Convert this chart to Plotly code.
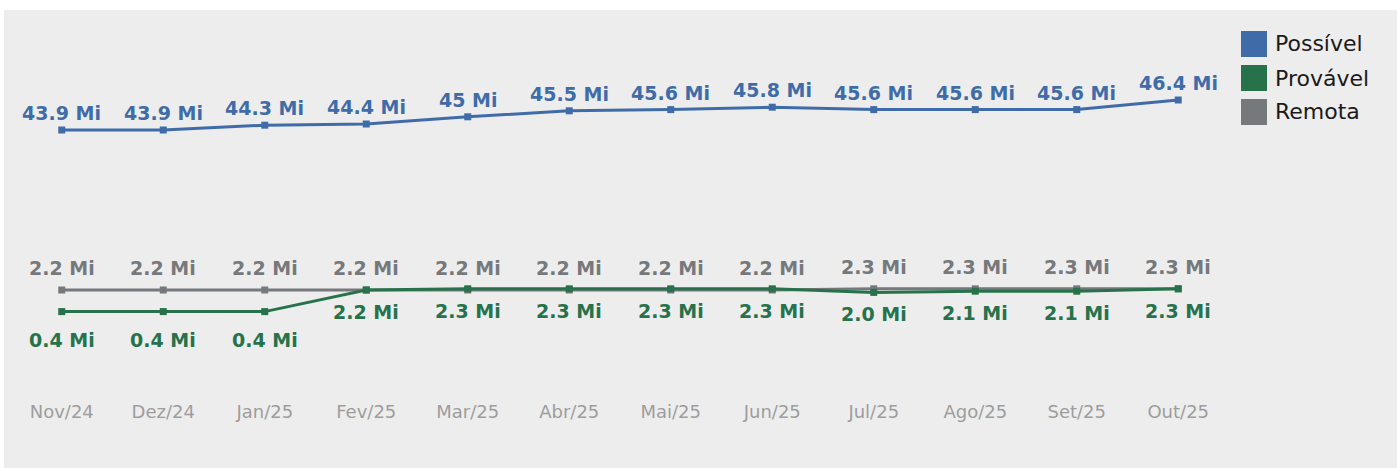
import plotly.graph_objects as go

months = ["Nov/24", "Dez/24", "Jan/25", "Fev/25", "Mar/25", "Abr/25",
          "Mai/25", "Jun/25", "Jul/25", "Ago/25", "Set/25", "Out/25"]
possivel = [43.9, 43.9, 44.3, 44.4, 45.0, 45.5, 45.6, 45.8, 45.6, 45.6, 45.6, 46.4]
provavel = [0.4, 0.4, 0.4, 2.2, 2.3, 2.3, 2.3, 2.3, 2.0, 2.1, 2.1, 2.3]
remota = [2.2, 2.2, 2.2, 2.2, 2.2, 2.2, 2.2, 2.2, 2.3, 2.3, 2.3, 2.3]
possivel_lbl = ["43.9 Mi", "43.9 Mi", "44.3 Mi", "44.4 Mi", "45 Mi", "45.5 Mi",
                "45.6 Mi", "45.8 Mi", "45.6 Mi", "45.6 Mi", "45.6 Mi", "46.4 Mi"]
provavel_lbl = ["0.4 Mi", "0.4 Mi", "0.4 Mi", "2.2 Mi", "2.3 Mi", "2.3 Mi",
                "2.3 Mi", "2.3 Mi", "2.0 Mi", "2.1 Mi", "2.1 Mi", "2.3 Mi"]
remota_lbl = ["2.2 Mi", "2.2 Mi", "2.2 Mi", "2.2 Mi", "2.2 Mi", "2.2 Mi",
              "2.2 Mi", "2.2 Mi", "2.3 Mi", "2.3 Mi", "2.3 Mi", "2.3 Mi"]
series_names = ["Possível", "Provável", "Remota"]

BLUE = "#3f6ca8"
GREEN = "#27724b"
GREY = "#76797c"
FONT = "DejaVu Sans"

W, H = 1397, 468
L, R, T, B = 11, 168, 30, 73
PW, PH = W - L - R, H - T - B


def px_x(px):
    return (px - L) / PW


def px_y(py):
    return (H - B - py) / PH


fig = go.Figure()
fig.add_trace(go.Scatter(x=months, y=remota, mode="lines+markers", name=series_names[2],
                         line=dict(color=GREY, width=3), marker=dict(symbol="square", size=7, color=GREY),
                         showlegend=False, yaxis="y"))
fig.add_trace(go.Scatter(x=months, y=provavel, mode="lines+markers", name=series_names[1],
                         line=dict(color=GREEN, width=3), marker=dict(symbol="square", size=7, color=GREEN),
                         showlegend=False, yaxis="y"))
fig.add_trace(go.Scatter(x=months, y=possivel, mode="lines+markers", name=series_names[0],
                         line=dict(color=BLUE, width=3), marker=dict(symbol="square", size=7, color=BLUE),
                         showlegend=False, yaxis="y2"))

annotations = []
for i, m in enumerate(months):
    annotations.append(dict(x=m, y=possivel[i], xref="x", yref="y2", text=possivel_lbl[i],
                            showarrow=False, yshift=17,
                            font=dict(family=FONT, size=19, color=BLUE, weight="bold")))
    annotations.append(dict(x=m, y=remota[i], xref="x", yref="y", text=remota_lbl[i],
                            showarrow=False, yshift=22,
                            font=dict(family=FONT, size=19, color=GREY, weight="bold")))
    shift = -28 if provavel[i] < 1 else -22
    annotations.append(dict(x=m, y=provavel[i], xref="x", yref="y", text=provavel_lbl[i],
                            showarrow=False, yshift=shift,
                            font=dict(family=FONT, size=19, color=GREEN, weight="bold")))

shapes = [dict(type="rect", xref="paper", yref="paper", x0=px_x(4), x1=px_x(W + 2),
               y0=px_y(H + 2), y1=px_y(10), fillcolor="#ededed", line=dict(width=0), layer="below")]

colors = [BLUE, GREEN, GREY]
tops = [31, 65, 99]
for name, c, tpx in zip(series_names, colors, tops):
    shapes.append(dict(type="rect", xref="paper", yref="paper", x0=px_x(1241), x1=px_x(1267),
                       y0=px_y(tpx + 26), y1=px_y(tpx), fillcolor=c, line=dict(width=0)))
    annotations.append(dict(x=px_x(1273), y=px_y(tpx + 13), xref="paper", yref="paper", text=name,
                            showarrow=False, xanchor="left", yanchor="middle",
                            font=dict(family=FONT, size=22, color="#1a1a1a")))

px_per_unit = 12.0
span = PH / px_per_unit
y1_lo = 2.2 - (H - B - 290) / px_per_unit
y2_lo = 43.9 - (H - B - 130) / px_per_unit

fig.update_layout(
    width=W, height=H,
    margin=dict(l=L, r=R, t=T, b=B),
    paper_bgcolor="white", plot_bgcolor="rgba(0,0,0,0)",
    xaxis=dict(type="category", range=[-0.5, 11.5], showgrid=False, zeroline=False,
               showline=False, ticks="", ticklabelstandoff=4,
               tickfont=dict(family=FONT, size=18, color="#9d9d9d")),
    yaxis=dict(range=[y1_lo, y1_lo + span], visible=False, showgrid=False, zeroline=False),
    yaxis2=dict(range=[y2_lo, y2_lo + span], visible=False, showgrid=False, zeroline=False,
                overlaying="y", side="right"),
    shapes=shapes, annotations=annotations, showlegend=False,
)

fig.write_html("out.html", config={"displayModeBar": False},
               post_script="document.body.style.margin='0';document.body.style.overflow='hidden';")
